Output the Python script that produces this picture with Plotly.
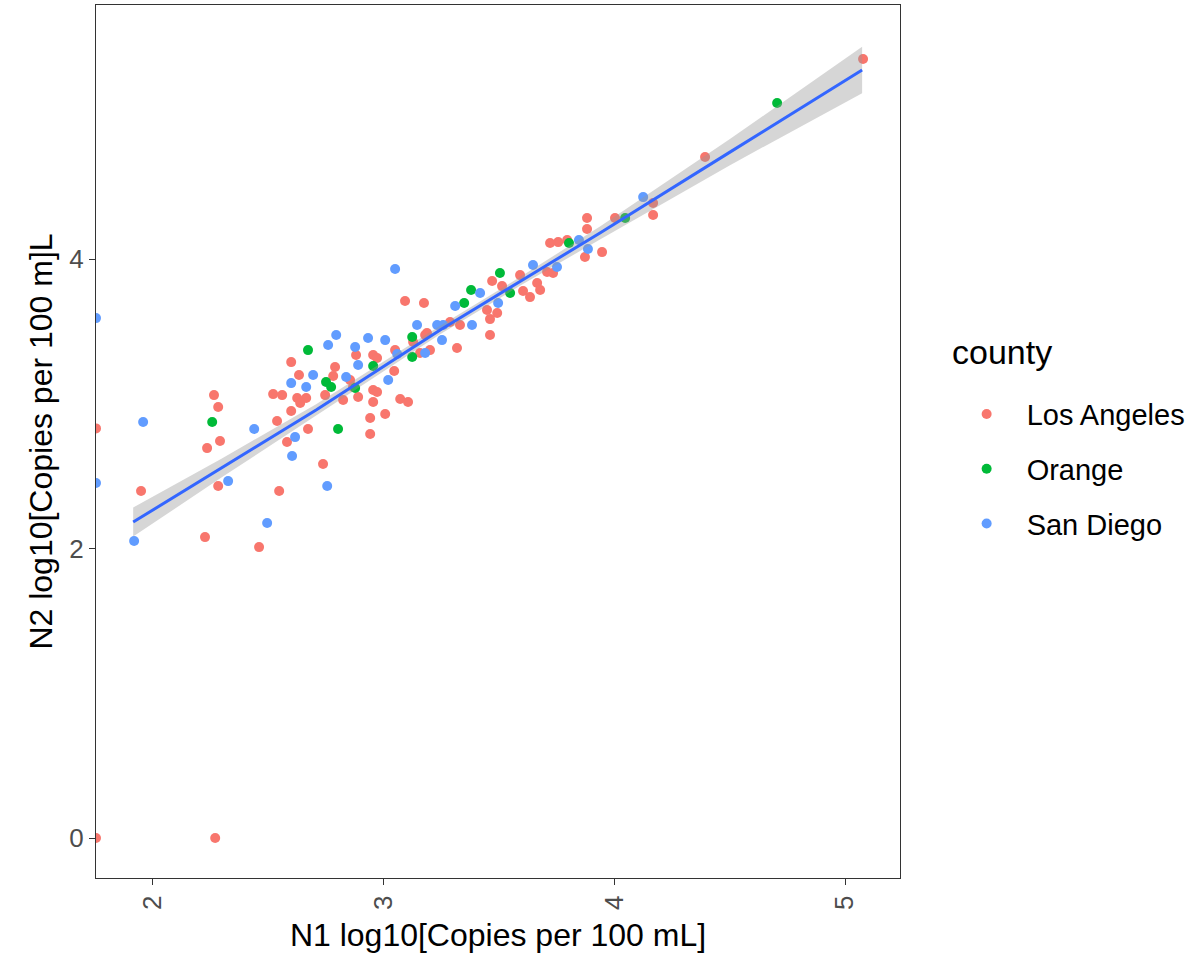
import plotly.graph_objects as go

# ---- data ----
la_x = [1.757, 1.757, 2.273, 1.952, 2.229, 2.268, 2.286, 2.294, 2.238, 2.286, 2.463, 2.550,
        2.524, 2.563, 2.628, 2.667, 2.602, 2.636, 2.602, 2.641, 2.541, 2.584, 2.675, 2.792,
        2.784, 2.749, 2.827, 2.857, 2.883, 2.892, 2.957, 2.974, 2.957, 2.974, 2.957, 3.009,
        2.944, 2.944, 3.048, 3.074, 3.108, 2.740, 3.095, 3.177, 3.052, 3.130, 3.190, 3.160,
        3.203, 3.182, 3.290, 3.333, 3.320, 3.450, 3.494, 3.463, 3.463, 3.472, 3.515, 3.593,
        3.667, 3.680, 3.606, 3.636, 3.710, 3.736, 3.723, 3.758, 3.797, 3.883, 3.883, 3.874,
        3.948, 4.004, 4.169, 4.169, 4.394, 5.078, 2.870]
la_y = [2.830, 0.000, 0.000, 2.397, 2.079, 3.060, 2.978, 2.743, 2.694, 2.432, 2.010, 2.397,
        3.067, 3.060, 3.040, 3.040, 3.288, 3.199, 2.950, 3.005, 2.881, 2.736, 2.826, 3.254,
        3.192, 3.060, 3.026, 3.164, 3.337, 3.047, 3.337, 3.316, 3.095, 3.081, 3.012, 2.929,
        2.902, 2.791, 3.226, 3.033, 3.012, 2.584, 3.710, 3.696, 3.371, 3.427, 3.489, 3.351,
        3.371, 3.475, 3.565, 3.544, 3.385, 3.648, 3.627, 3.585, 3.475, 3.848, 3.813, 3.889,
        3.834, 3.786, 3.779, 3.737, 3.910, 3.903, 4.111, 4.117, 4.131, 4.283, 4.207, 4.014,
        4.048, 4.283, 4.387, 4.304, 4.705, 5.382, 3.116]

or_x = [2.260, 2.675, 2.753, 2.775, 2.805, 2.879, 2.957, 3.126, 3.126, 3.351, 3.381, 3.506,
        3.550, 3.805, 4.048, 4.706]
or_y = [2.874, 3.371, 3.150, 3.116, 2.826, 3.109, 3.261, 3.461, 3.323, 3.696, 3.786, 3.903,
        3.765, 4.111, 4.283, 5.078]

sd_x = [1.757, 1.757, 1.922, 1.961, 2.329, 2.498, 2.442, 2.619, 2.606, 2.602, 2.667, 2.697,
        2.797, 2.762, 2.879, 2.935, 3.009, 2.892, 2.840, 3.022, 2.758, 3.052, 3.147, 3.234,
        3.260, 3.255, 3.182, 3.061, 3.312, 3.420, 3.385, 3.498, 3.649, 3.753, 3.848, 3.887,
        4.126]
sd_y = [3.592, 2.453, 2.052, 2.874, 2.466, 2.176, 2.826, 2.770, 2.639, 3.143, 3.116, 3.199,
        3.475, 3.406, 3.392, 3.454, 3.440, 3.268, 3.185, 3.164, 2.432, 3.931, 3.544, 3.544,
        3.544, 3.440, 3.351, 3.344, 3.675, 3.765, 3.544, 3.696, 3.959, 3.945, 4.131, 4.069,
        4.428]

# smoothed fit and its confidence half-width
fit_x = [1.918, 2.300, 2.710, 3.000, 3.247, 3.600, 3.939, 4.500, 5.074]
fit_y = [2.183, 2.555, 2.957, 3.256, 3.510, 3.852, 4.180, 4.737, 5.306]
fit_se = [0.100, 0.065, 0.040, 0.033, 0.030, 0.030, 0.045, 0.090, 0.160]

x_ticks = [2, 3, 4, 5]
y_ticks = [0, 2, 4]

counties = ["Los Angeles", "Orange", "San Diego"]
colors = ["#F8766D", "#00BA38", "#619CFF"]

FONT = "Liberation Sans, Arial, sans-serif"

fig = go.Figure()
for name, xs, ys, col in zip(counties, [la_x, or_x, sd_x], [la_y, or_y, sd_y], colors):
    fig.add_trace(go.Scatter(
        x=xs, y=ys, mode="markers", name=name, legendgroup=name,
        marker=dict(color=col, size=10, line=dict(width=0)),
    ))

upper = [y + s for y, s in zip(fit_y, fit_se)]
lower = [y - s for y, s in zip(fit_y, fit_se)]
fig.add_trace(go.Scatter(
    x=fit_x + fit_x[::-1], y=upper + lower[::-1], fill="toself",
    fillcolor="rgba(153,153,153,0.4)", line=dict(width=0), mode="lines",
    showlegend=False, hoverinfo="skip",
))
fig.add_trace(go.Scatter(
    x=fit_x, y=fit_y, mode="lines", line=dict(color="#3366FF", width=3),
    showlegend=False,
))

axis_common = dict(
    showgrid=False, zeroline=False, showline=True, mirror=True,
    linecolor="#333333", linewidth=1.3,
    ticks="outside", ticklen=6, tickcolor="#333333", tickwidth=1.3,
    tickfont=dict(family=FONT, size=26, color="#4D4D4D"),
)

fig.update_layout(
    width=1204, height=958,
    margin=dict(l=96, r=304, t=5, b=80),
    paper_bgcolor="white", plot_bgcolor="white",
    font=dict(family=FONT),
    xaxis=dict(range=[1.757, 5.238], tickvals=x_ticks, tickangle=-90,
               title=dict(text="N1 log10[Copies per 100 mL]", standoff=14,
                          font=dict(family=FONT, size=32, color="black")),
               **axis_common),
    yaxis=dict(range=[-0.276, 5.755], tickvals=y_ticks,
               title=dict(text="N2 log10[Copies per 100 m]L", standoff=6,
                          font=dict(family=FONT, size=32, color="black")),
               **axis_common),
    legend=dict(
        font=dict(family=FONT, size=29, color="black"),
        x=1.058, xanchor="left", y=0.5605, yanchor="top",
        itemwidth=70, tracegroupgap=14, traceorder="grouped",
        bgcolor="rgba(0,0,0,0)",
    ),
    annotations=[dict(
        text="county", x=1.0622, y=0.6025, xref="paper", yref="paper",
        xanchor="left", yanchor="middle", showarrow=False,
        font=dict(family=FONT, size=34, color="black"),
    )],
)

fig.write_html("out.html", config={"displayModeBar": False},
               post_script="document.body.style.margin='0px';")
